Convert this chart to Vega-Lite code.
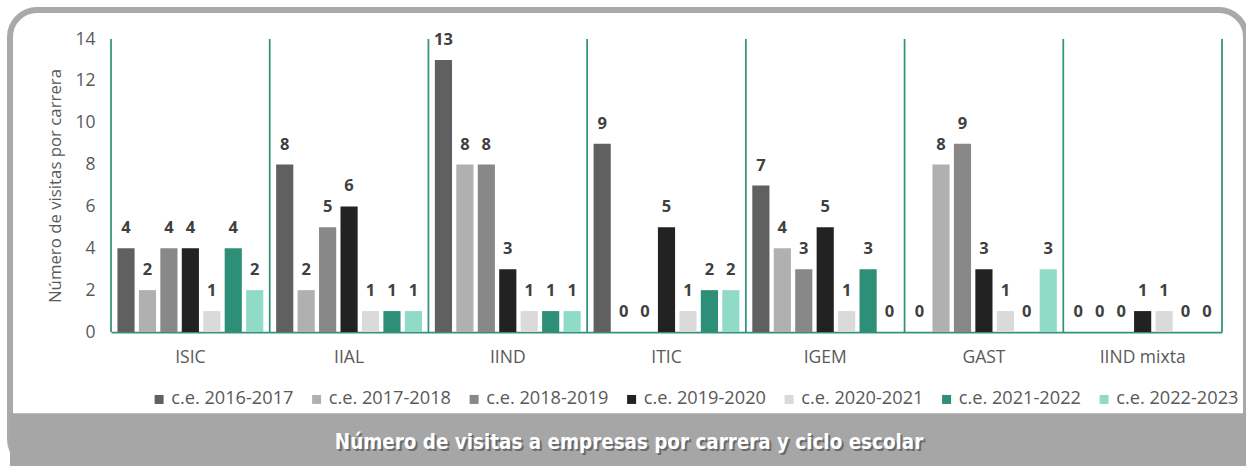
{
  "$schema": "https://vega.github.io/schema/vega-lite/v6.json",
  "autosize": {"type": "none"},
  "padding": {"left": 10, "top": 10, "right": 0, "bottom": 0},
  "width": 1236,
  "height": 456,
  "background": "white",
  "view": {"stroke": "#a9a9a9", "strokeWidth": 6, "cornerRadius": 27, "fill": "white"},
  "config": {"font": "Open Sans"},
  "layer": [
    {
      "data": {"name": "visitas", "values": [
        {"carrera": "ISIC", "ciclo": "c.e. 2016-2017", "visitas": 4},
        {"carrera": "ISIC", "ciclo": "c.e. 2017-2018", "visitas": 2},
        {"carrera": "ISIC", "ciclo": "c.e. 2018-2019", "visitas": 4},
        {"carrera": "ISIC", "ciclo": "c.e. 2019-2020", "visitas": 4},
        {"carrera": "ISIC", "ciclo": "c.e. 2020-2021", "visitas": 1},
        {"carrera": "ISIC", "ciclo": "c.e. 2021-2022", "visitas": 4},
        {"carrera": "ISIC", "ciclo": "c.e. 2022-2023", "visitas": 2},
        {"carrera": "IIAL", "ciclo": "c.e. 2016-2017", "visitas": 8},
        {"carrera": "IIAL", "ciclo": "c.e. 2017-2018", "visitas": 2},
        {"carrera": "IIAL", "ciclo": "c.e. 2018-2019", "visitas": 5},
        {"carrera": "IIAL", "ciclo": "c.e. 2019-2020", "visitas": 6},
        {"carrera": "IIAL", "ciclo": "c.e. 2020-2021", "visitas": 1},
        {"carrera": "IIAL", "ciclo": "c.e. 2021-2022", "visitas": 1},
        {"carrera": "IIAL", "ciclo": "c.e. 2022-2023", "visitas": 1},
        {"carrera": "IIND", "ciclo": "c.e. 2016-2017", "visitas": 13},
        {"carrera": "IIND", "ciclo": "c.e. 2017-2018", "visitas": 8},
        {"carrera": "IIND", "ciclo": "c.e. 2018-2019", "visitas": 8},
        {"carrera": "IIND", "ciclo": "c.e. 2019-2020", "visitas": 3},
        {"carrera": "IIND", "ciclo": "c.e. 2020-2021", "visitas": 1},
        {"carrera": "IIND", "ciclo": "c.e. 2021-2022", "visitas": 1},
        {"carrera": "IIND", "ciclo": "c.e. 2022-2023", "visitas": 1},
        {"carrera": "ITIC", "ciclo": "c.e. 2016-2017", "visitas": 9},
        {"carrera": "ITIC", "ciclo": "c.e. 2017-2018", "visitas": 0},
        {"carrera": "ITIC", "ciclo": "c.e. 2018-2019", "visitas": 0},
        {"carrera": "ITIC", "ciclo": "c.e. 2019-2020", "visitas": 5},
        {"carrera": "ITIC", "ciclo": "c.e. 2020-2021", "visitas": 1},
        {"carrera": "ITIC", "ciclo": "c.e. 2021-2022", "visitas": 2},
        {"carrera": "ITIC", "ciclo": "c.e. 2022-2023", "visitas": 2},
        {"carrera": "IGEM", "ciclo": "c.e. 2016-2017", "visitas": 7},
        {"carrera": "IGEM", "ciclo": "c.e. 2017-2018", "visitas": 4},
        {"carrera": "IGEM", "ciclo": "c.e. 2018-2019", "visitas": 3},
        {"carrera": "IGEM", "ciclo": "c.e. 2019-2020", "visitas": 5},
        {"carrera": "IGEM", "ciclo": "c.e. 2020-2021", "visitas": 1},
        {"carrera": "IGEM", "ciclo": "c.e. 2021-2022", "visitas": 3},
        {"carrera": "IGEM", "ciclo": "c.e. 2022-2023", "visitas": 0},
        {"carrera": "GAST", "ciclo": "c.e. 2016-2017", "visitas": 0},
        {"carrera": "GAST", "ciclo": "c.e. 2017-2018", "visitas": 8},
        {"carrera": "GAST", "ciclo": "c.e. 2018-2019", "visitas": 9},
        {"carrera": "GAST", "ciclo": "c.e. 2019-2020", "visitas": 3},
        {"carrera": "GAST", "ciclo": "c.e. 2020-2021", "visitas": 1},
        {"carrera": "GAST", "ciclo": "c.e. 2021-2022", "visitas": 0},
        {"carrera": "GAST", "ciclo": "c.e. 2022-2023", "visitas": 3},
        {"carrera": "IIND mixta", "ciclo": "c.e. 2016-2017", "visitas": 0},
        {"carrera": "IIND mixta", "ciclo": "c.e. 2017-2018", "visitas": 0},
        {"carrera": "IIND mixta", "ciclo": "c.e. 2018-2019", "visitas": 0},
        {"carrera": "IIND mixta", "ciclo": "c.e. 2019-2020", "visitas": 1},
        {"carrera": "IIND mixta", "ciclo": "c.e. 2020-2021", "visitas": 1},
        {"carrera": "IIND mixta", "ciclo": "c.e. 2021-2022", "visitas": 0},
        {"carrera": "IIND mixta", "ciclo": "c.e. 2022-2023", "visitas": 0}
      ]},
      "layer": [
        {
          "mark": {"type": "bar"},
          "encoding": {
            "x": {
              "field": "carrera", "type": "nominal",
              "scale": {"domain": ["ISIC", "IIAL", "IIND", "ITIC", "IGEM", "GAST", "IIND mixta"], "range": [101, 1212], "paddingInner": 0, "paddingOuter": 0},
              "axis": {"orient": "bottom", "offset": -134, "title": null, "labelAngle": 0, "ticks": false, "domainColor": "#339379", "domainWidth": 1.75, "labelPadding": 16, "labelFontSize": 17.5, "labelColor": "#595959", "labelFont": "Open Sans"}
            },
            "xOffset": {
              "field": "ciclo", "type": "nominal",
              "scale": {"domain": ["c.e. 2016-2017", "c.e. 2017-2018", "c.e. 2018-2019", "c.e. 2019-2020", "c.e. 2020-2021", "c.e. 2021-2022", "c.e. 2022-2023"], "paddingInner": 0.2, "paddingOuter": 0.3}
            },
            "y": {
              "field": "visitas", "type": "quantitative",
              "scale": {"domain": [0, 14], "range": [322, 29], "nice": false, "zero": true},
              "axis": {"orient": "left", "offset": -101, "values": [0, 2, 4, 6, 8, 10, 12, 14], "domain": false, "ticks": false, "grid": false, "labelPadding": 16, "labelFontSize": 17.5, "labelColor": "#595959", "labelFont": "Open Sans", "title": "Número de visitas por carrera", "titleFont": "Open Sans", "titleFontSize": 16.8, "titleFontWeight": "normal", "titleColor": "#595959", "titlePadding": 10}
            },
            "color": {
              "field": "ciclo", "type": "nominal",
              "scale": {"domain": ["c.e. 2016-2017", "c.e. 2017-2018", "c.e. 2018-2019", "c.e. 2019-2020", "c.e. 2020-2021", "c.e. 2021-2022", "c.e. 2022-2023"], "range": ["#606060", "#b0b0b0", "#888888", "#222222", "#dadada", "#2e8f78", "#90dac8"]},
              "legend": {"orient": "none", "legendX": 140, "legendY": 380, "direction": "horizontal", "columns": 7, "title": null, "symbolType": "square", "symbolSize": 81, "symbolStrokeWidth": 0, "labelFontSize": 18.2, "labelFont": "Open Sans", "labelColor": "#595959", "labelOffset": 3, "columnPadding": 13.5, "labelLimit": 300}
            }
          }
        },
        {
          "mark": {"type": "text", "baseline": "alphabetic", "dy": -15, "font": "Open Sans", "fontWeight": "bold", "fontSize": 16.5, "color": "#404040"},
          "encoding": {
            "x": {"field": "carrera", "type": "nominal"},
            "xOffset": {"field": "ciclo", "type": "nominal"},
            "y": {"field": "visitas", "type": "quantitative"},
            "text": {"field": "visitas", "type": "quantitative"}
          }
        }
      ]
    },
    {
      "data": {"values": [
        {"carrera": "ISIC"}, {"carrera": "IIAL"}, {"carrera": "IIND"}, {"carrera": "ITIC"},
        {"carrera": "IGEM"}, {"carrera": "GAST"}, {"carrera": "IIND mixta"}
      ]},
      "mark": {"type": "rule", "color": "#339379", "strokeWidth": 1.75},
      "encoding": {
        "x": {"field": "carrera", "type": "nominal", "bandPosition": 0},
        "y": {"datum": 14, "type": "quantitative"},
        "y2": {"datum": 0}
      }
    },
    {
      "data": {"values": [{"carrera": "IIND mixta"}]},
      "mark": {"type": "rule", "color": "#339379", "strokeWidth": 1.75},
      "encoding": {
        "x": {"field": "carrera", "type": "nominal", "bandPosition": 1},
        "y": {"datum": 14, "type": "quantitative"},
        "y2": {"datum": 0}
      }
    },
    {
      "data": {"values": [{"titulo": "Número de visitas a empresas por carrera y ciclo escolar"}]},
      "layer": [
        {
          "mark": {"type": "rect", "color": "#a6a6a6"},
          "encoding": {
            "y": {"datum": -3.885, "type": "quantitative"},
            "y2": {"datum": -6.6}
          }
        },
        {
          "mark": {"type": "text", "baseline": "alphabetic", "align": "center", "dx": 3, "dy": 2, "font": "'DejaVu Sans Condensed', 'Open Sans'", "fontWeight": "bold", "fontSize": 20.4, "color": "#3a3a3a", "opacity": 0.55},
          "encoding": {
            "y": {"datum": -5.59, "type": "quantitative"},
            "text": {"field": "titulo", "type": "nominal"}
          }
        },
        {
          "mark": {"type": "text", "baseline": "alphabetic", "align": "center", "dx": 1, "font": "'DejaVu Sans Condensed', 'Open Sans'", "fontWeight": "bold", "fontSize": 20.4, "color": "white"},
          "encoding": {
            "y": {"datum": -5.59, "type": "quantitative"},
            "text": {"field": "titulo", "type": "nominal"}
          }
        }
      ]
    }
  ]
}
